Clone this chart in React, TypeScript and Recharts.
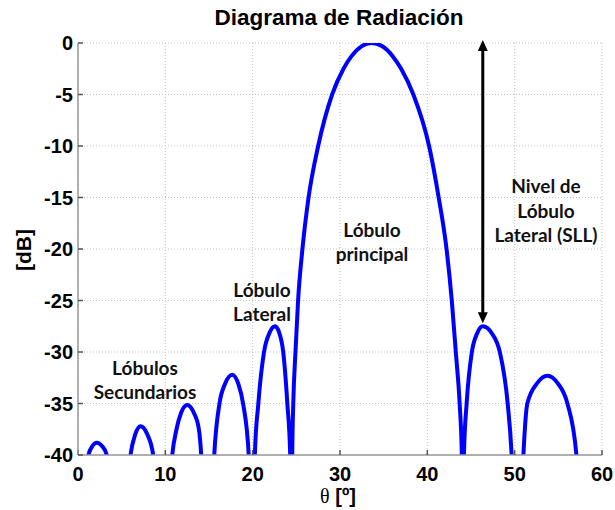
import React from "react";
import {
  LineChart,
  Line,
  XAxis,
  YAxis,
  CartesianGrid,
  ReferenceLine,
} from "recharts";

// θ [º] sample points (nulls pushed below the -40 dB floor)
const thetaDeg = [
  0.0, 1.2, 1.68, 2.15, 2.72, 3.3, 4.6,
  6.01, 6.55, 7.16, 7.94, 8.61, 9.7,
  10.79, 11.28, 11.81, 12.5, 13.26, 13.84, 14.11, 14.85,
  15.6, 16.2, 16.83, 17.66, 18.36, 18.9, 19.55, 19.9,
  20.25, 20.65, 21.3, 21.95, 22.57, 23.03, 23.5, 23.97, 24.3, 24.42,
  24.53, 24.65, 24.9, 25.2, 25.7, 26.4, 27.5, 29.1, 30.4, 31.3, 32.5, 33.6,
  34.8, 36.05, 37.0, 38.4, 40.2, 41.3, 42.2, 42.8, 43.26, 43.7, 43.95, 44.08,
  44.19, 44.5, 45.1, 45.7, 46.35, 47.4, 48.3, 49.2, 49.65, 50.3,
  51.0, 51.45, 52.6, 53.75, 54.9, 56.04, 57.07, 57.6, 60.0,
];

// gain [dB]
const gainDb = [
  -52, -40, -39.1, -38.8, -39.1, -40, -58,
  -40, -38, -37.2, -38, -40, -58,
  -40, -37.5, -35.9, -35.15, -35.9, -37.5, -40, -58,
  -40, -35, -33.1, -32.2, -33.1, -35, -40, -58,
  -40, -35, -30, -28.1, -27.5, -28.1, -30, -35, -40, -60,
  -40, -35, -30, -25, -20, -15, -10, -5, -2.5, -1.3, -0.3, 0,
  -0.3, -1.3, -2.5, -5, -10, -15, -20, -25, -30, -35, -40, -60,
  -40, -35, -30, -28.2, -27.5, -28.2, -30, -35, -40, -58,
  -40, -35, -33, -32.3, -33, -35, -40, -58, -50,
];

const xTicks = [0, 10, 20, 30, 40, 50, 60];
const yTicks = [-40, -35, -30, -25, -20, -15, -10, -5, 0];

// side lobe level arrow: from main lobe peak down to first side lobe
const sllTheta = 46.35;
const sllTop = 0;
const sllBottom = -27.2;

const data = thetaDeg.map((t, i) => ({ theta: t, gain: gainDb[i] }));

const sans = "'Liberation Sans', Arial, Helvetica, sans-serif";

const tickFont = {
  fontFamily: sans,
  fontWeight: 700,
  fontSize: 20,
  fill: "#000",
};

const noteFont = {
  fontFamily: "Lato, 'Open Sans', sans-serif",
  fontWeight: 700,
  fontSize: 19,
  fill: "#111",
};

function Arrow(props: any) {
  const { x1, y1, x2, y2 } = props;
  const x = (x1 + x2) / 2;
  const top = Math.min(y1, y2) - 3;
  const bottom = Math.max(y1, y2);
  const hw = 5;
  const hl = 11;
  return (
    <g>
      <line x1={x} x2={x} y1={top + hl - 1} y2={bottom - hl + 1} stroke="#000" strokeWidth={3} />
      <polygon points={`${x},${top} ${x - hw},${top + hl} ${x + hw},${top + hl}`} fill="#000" />
      <polygon
        points={`${x},${bottom} ${x - hw},${bottom - hl} ${x + hw},${bottom - hl}`}
        fill="#000"
      />
    </g>
  );
}

export default function App() {
  return (
    <div style={{ position: "absolute", left: 0, top: 0, width: 615, height: 510, background: "#fff" }}>
      <LineChart
        width={615}
        height={510}
        data={data}
        margin={{ top: 43, right: 13, bottom: 0, left: 0 }}
      >
        <CartesianGrid stroke="#c4c4c4" strokeDasharray="1 2" />
        <XAxis
          dataKey="theta"
          type="number"
          domain={[0, 60]}
          ticks={xTicks}
          allowDataOverflow
          height={55}
          stroke="#999"
          strokeWidth={1.5}
          tickSize={-5}
          tickMargin={17}
          tickLine={{ stroke: "#555" }}
          tick={tickFont}
          interval={0}
        />
        <YAxis
          type="number"
          domain={[-40, 0]}
          ticks={yTicks}
          allowDataOverflow
          width={78}
          stroke="#999"
          strokeWidth={1.5}
          tickSize={-5}
          tickMargin={10}
          tickLine={{ stroke: "#555" }}
          tick={tickFont}
          interval={0}
        />
        <Line
          type="monotone"
          dataKey="gain"
          stroke="#0000ff"
          strokeWidth={4}
          dot={false}
          activeDot={false}
          isAnimationActive={false}
        />
        <ReferenceLine
          segment={[
            { x: sllTheta, y: sllTop },
            { x: sllTheta, y: sllBottom },
          ]}
          shape={Arrow}
        />
      </LineChart>
      <svg
        width={615}
        height={510}
        style={{ position: "absolute", left: 0, top: 0, pointerEvents: "none" }}
      >
        <text
          x={339}
          y={25}
          textAnchor="middle"
          style={{ fontFamily: sans, fontWeight: 700, fontSize: 22.5 }}
        >
          Diagrama de Radiación
        </text>
        <text
          x={31}
          y={250}
          textAnchor="middle"
          transform="rotate(-90, 31, 250)"
          style={{ fontFamily: sans, fontWeight: 700, fontSize: 21 }}
        >
          [dB]
        </text>
        <text x={338} y={503} textAnchor="middle" style={{ fontSize: 20 }}>
          <tspan style={{ fontFamily: "'Liberation Serif', 'DejaVu Serif', serif" }}>θ</tspan>
          <tspan style={{ fontFamily: sans, fontWeight: 700 }}> [º]</tspan>
        </text>

        <text textAnchor="middle" style={noteFont}>
          <tspan x={145} y={375}>Lóbulos</tspan>
          <tspan x={145} y={399}>Secundarios</tspan>
        </text>
        <text textAnchor="middle" style={noteFont}>
          <tspan x={262} y={297}>Lóbulo</tspan>
          <tspan x={262} y={321}>Lateral</tspan>
        </text>
        <text textAnchor="middle" style={noteFont}>
          <tspan x={372} y={237}>Lóbulo</tspan>
          <tspan x={372} y={261}>principal</tspan>
        </text>
        <text textAnchor="middle" style={noteFont}>
          <tspan x={546} y={193}>Nivel de</tspan>
          <tspan x={546} y={218}>Lóbulo</tspan>
          <tspan x={546} y={242}>Lateral (SLL)</tspan>
        </text>
      </svg>
    </div>
  );
}
